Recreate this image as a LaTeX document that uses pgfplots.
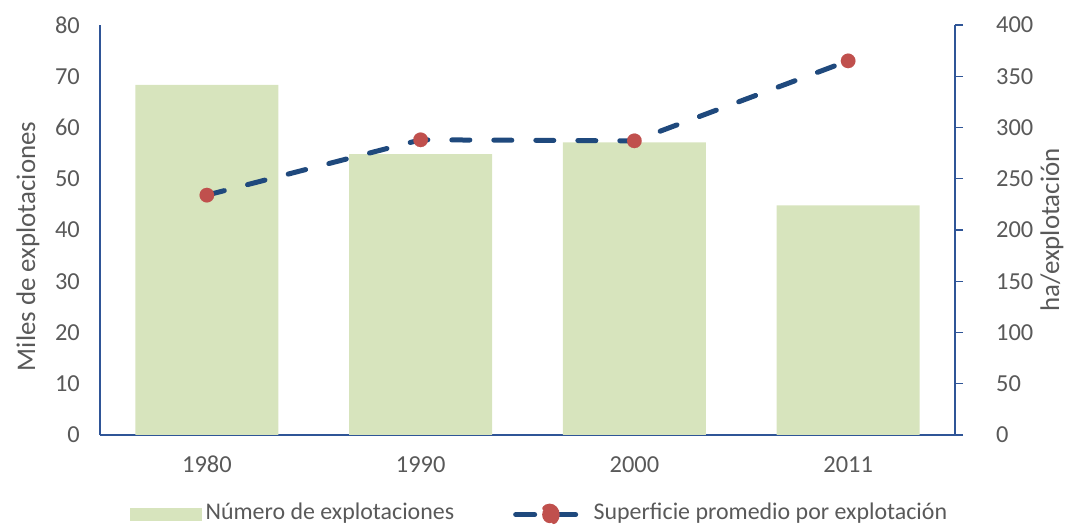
\documentclass[border=0pt]{standalone}
\usepackage{fontspec}
\setmainfont{Carlito}
\usepackage{pgfplots}
\pgfplotsset{compat=1.18}
\definecolor{barg}{HTML}{D7E4BD}
\definecolor{lineb}{HTML}{1F497D}
\definecolor{mred}{HTML}{C0504D}
\definecolor{axb}{HTML}{2F5597}
\definecolor{txt}{HTML}{595959}
\begin{document}
\begin{tikzpicture}
\useasboundingbox (-100bp,-94bp) rectangle (966bp,435bp);
\pgfplotsset{
  common/.style={
    scale only axis, width=855bp, height=410bp,
    xmin=-0.5, xmax=3.5,
    /pgf/number format/assume math mode=true,
    tick label style={font=\fontsize{24.5}{28}\selectfont, text=txt},
    label style={font=\fontsize{27}{31}\selectfont, text=txt},
    axis line style={axb, line width=1.3bp},
  }
}
\begin{axis}[common,
  at={(0,0)}, anchor=south west,
  ymin=0, ymax=80,
  axis y line*=left, axis x line*=bottom,
  xtick={0,1,2,3}, xticklabels={1980,1990,2000,2011},
  ytick={0,10,...,80},
  major tick length=0pt,
  yticklabel style={inner sep=0pt, anchor=east, xshift=-20bp},
  xticklabel style={inner sep=0pt, anchor=north, yshift=-21bp},
  ylabel={Miles de explotaciones},
  ylabel style={at={(axis description cs:-0.0842,0.46)}, anchor=center},
]
\addplot[ybar, bar width=143bp, fill=barg, draw=none] coordinates {(0,68.3) (1,54.8) (2,57.1) (3,44.8)};
\end{axis}
\begin{axis}[common,
  at={(0,0)}, anchor=south west,
  ymin=0, ymax=400,
  axis y line*=right, axis x line=none,
  ytick={0,50,...,400},
  tick align=outside, major tick length=8bp,
  tick style={axb, line width=1.3bp},
  yticklabel style={inner sep=0pt, anchor=west, xshift=33bp},
  ylabel={ha/explotación},
  ylabel style={at={(axis description cs:1.1135,0.5)}, anchor=center, rotate=0},
  legend style={at={(0.0351,-0.193)}, anchor=west, draw=none, fill=none, inner sep=0pt,
    legend columns=2, font=\fontsize{24}{28}\selectfont, text=txt,
    nodes={inner sep=0pt},
    /tikz/every even column/.append style={column sep=59bp}},
  legend cell align=left,
]
\addlegendimage{legend image code/.code={\fill[barg] (0bp,-9bp) rectangle (71bp,3bp); \path (75bp,0bp);}}
\addlegendentry{Número de explotaciones}
\addplot[lineb, line width=5bp, dash pattern=on 18bp off 24bp, line cap=round,
  mark=*, mark size=7.3bp, mark options={solid, fill=mred, draw=mred, line width=0.1bp},
  legend image code/.code={\draw[solid, lineb, line width=5bp, line cap=round] (2.5bp,-3bp)--(21.5bp,-3bp) (45.5bp,-3bp)--(62.5bp,-3bp); \fill[mred] (36.5bp,-3bp) ellipse (7.5bp and 8.5bp); \path (78bp,0bp);}]
  coordinates {(0,234) (1,288) (2,287) (3,365)};
\addlegendentry{Superficie promedio por explotación}
\end{axis}
\end{tikzpicture}
\end{document}
